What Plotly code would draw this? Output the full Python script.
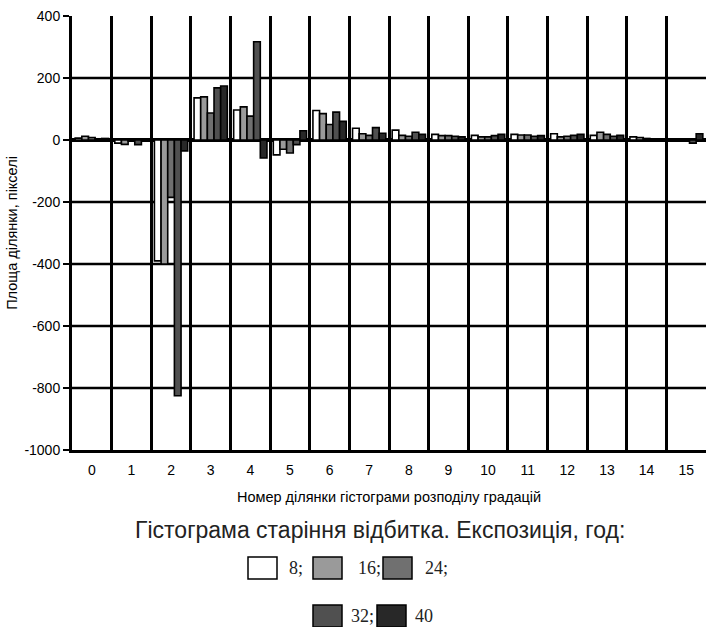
import plotly.graph_objects as go

categories = ["0", "1", "2", "3", "4", "5", "6", "7", "8", "9", "10", "11", "12", "13", "14", "15"]
series_names = ["8;", "16;", "24;", "32;", "40"]
h8 = [6, -10, -390, 136, 97, -48, 95, 38, 32, 18, 15, 18, 20, 15, 10, 0]
h16 = [12, -14, -400, 139, 107, -30, 85, 20, 15, 14, 10, 16, 10, 25, 8, 0]
h24 = [8, -3, -185, 87, 77, -42, 50, 15, 12, 14, 10, 16, 12, 18, 5, 0]
h32 = [4, -15, -825, 168, 317, -15, 90, 40, 25, 12, 14, 12, 15, 12, 3, -10]
h40 = [5, -2, -35, 174, -58, 30, 60, 22, 18, 10, 18, 14, 18, 15, 2, 20]
y_ticks = [-1000, -800, -600, -400, -200, 0, 200, 400]
y_ticktext = ["-1000", "-800", "-600", "-400", "-200", "0", "200", "400"]
colors = ["#ffffff", "#9a9a9a", "#707070", "#505050", "#282828"]

W, H = 706, 627
L, R, T, B = 72, 0, 16, 177
PW, PH = W - L - R, H - T - B

def px(x):
    return (x - L) / PW

def py(y):
    return (H - B - y) / PH

fig = go.Figure()
for name, vals, col in zip(series_names, [h8, h16, h24, h32, h40], colors):
    fig.add_trace(go.Bar(x=categories, y=vals, name=name,
                         marker=dict(color=col, line=dict(color="black", width=1.6)),
                         showlegend=False))

shapes = []
for v in y_ticks:
    if v in (-1000, 0, 400):
        continue
    shapes.append(dict(type="line", xref="paper", yref="y", x0=0, x1=1, y0=v, y1=v,
                       line=dict(color="black", width=2.5), layer="below"))

# manual legend
legend_pos = [  # (swatch x0, swatch y0 top, label x)
    (248, 557, 287), (313, 557, 356), (383, 557, 423),
    (313, 605, 349), (377, 605, 413),
]
annotations = []
for (sx, sy, lx), name, col in zip(legend_pos, series_names, colors):
    shapes.append(dict(type="rect", xref="paper", yref="paper",
                       x0=px(sx), x1=px(sx + 29), y0=py(sy), y1=py(sy + 22),
                       fillcolor=col, line=dict(color="black", width=1.5)))
    annotations.append(dict(text=name, xref="paper", yref="paper", x=px(lx), y=py(sy + 11),
                            xanchor="left", yanchor="middle", showarrow=False,
                            font=dict(family="Liberation Serif", size=18, color="#222")))
annotations.append(dict(text="Гістограма старіння відбитка. Експозиція, год:", xref="paper", yref="paper",
                        x=px(380), y=py(530), xanchor="center", yanchor="middle", showarrow=False,
                        font=dict(family="Liberation Sans", size=23, color="#222")))

fig.update_layout(
    width=W, height=H,
    margin=dict(l=L, r=R, t=T, b=B, autoexpand=False),
    paper_bgcolor="white", plot_bgcolor="white",
    barmode="group", bargap=0.16, bargroupgap=0,
    font=dict(family="Liberation Sans", size=12, color="black"),
    shapes=shapes, annotations=annotations,
    xaxis=dict(type="category", tickson="boundaries", showgrid=True, gridcolor="black", gridwidth=2.5,
               showline=True, linecolor="black", linewidth=3, ticks="", ticklabelstandoff=5,
               automargin=False, tickfont=dict(size=14),
               title=dict(text="Номер ділянки гістограми розподілу градацій", standoff=16,
                          font=dict(size=14.5))),
    yaxis=dict(range=[-1000, 400], tickvals=y_ticks, ticktext=y_ticktext, showgrid=False,
               zeroline=True, zerolinecolor="black", zerolinewidth=4,
               showline=True, linecolor="black", linewidth=3,
               ticks="outside", ticklen=6, tickwidth=2, tickcolor="black",
               automargin=False, tickfont=dict(size=14),
               title=dict(text="Площа ділянки, пікселі", standoff=4, font=dict(size=14.5))),
)

fig.write_html("out.html", config={"displayModeBar": False},
               post_script="document.body.style.margin='0';document.body.style.overflow='hidden';")
